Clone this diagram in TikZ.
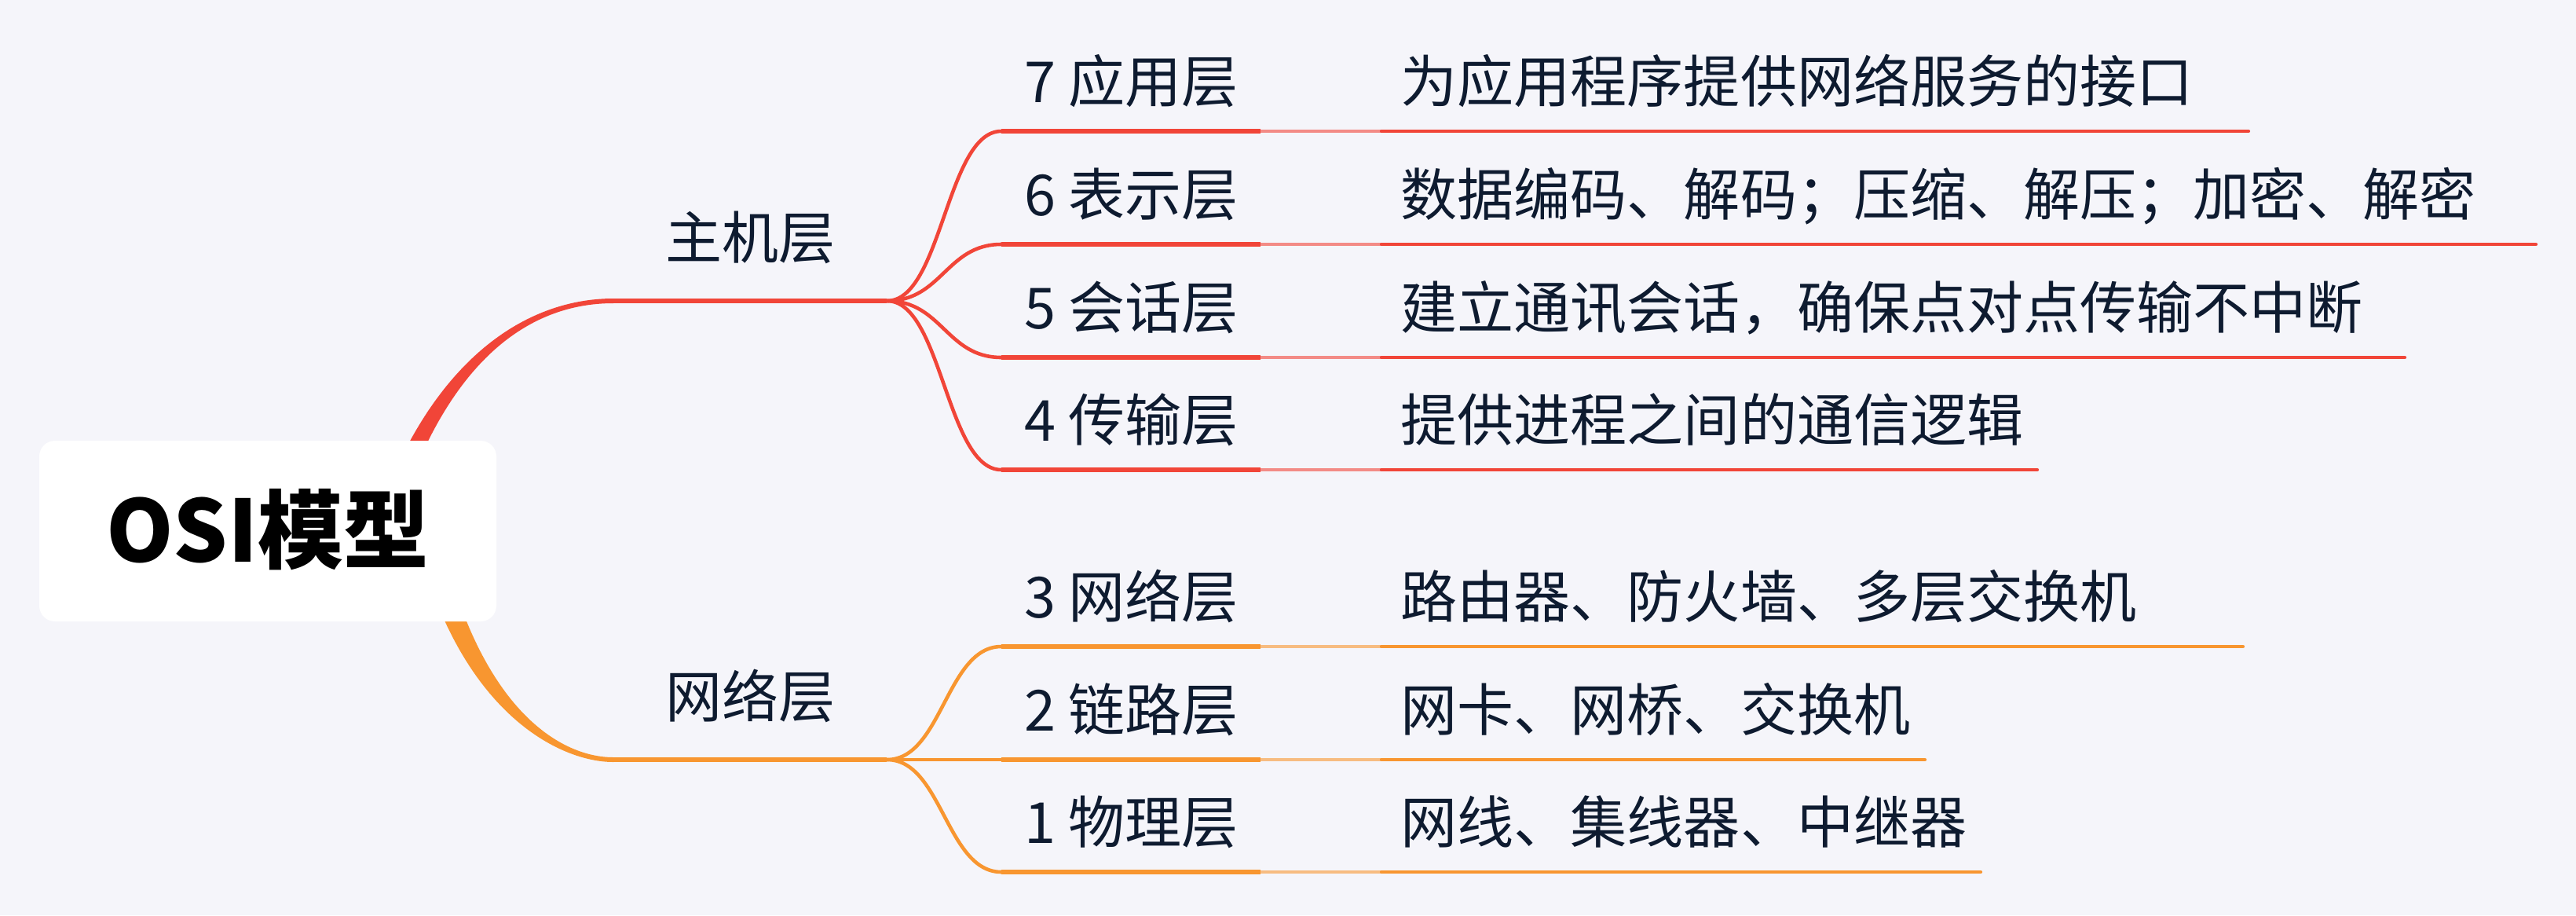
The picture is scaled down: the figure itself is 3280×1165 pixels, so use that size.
\documentclass[tikz,border=0pt]{standalone}
\usepackage{fontspec}
\setmainfont{Noto Sans CJK SC}
\definecolor{hostred}{RGB}{241,69,56}
\definecolor{netorange}{RGB}{248,150,48}
\definecolor{paper}{RGB}{245,245,250}
\definecolor{ink}{RGB}{14,27,48}
\pgfdeclarelayer{back}
\pgfsetlayers{back,main}
\tikzset{
  root/.style={fill=white,rounded corners=2mm,minimum width=58.2mm,minimum height=23mm,
    inner sep=0pt,text height=7.8mm,text depth=0pt,font=\fontsize{31}{36}\selectfont\bfseries},
  group/.style={anchor=south west,minimum width=34.7mm,inner sep=0pt,text=ink,
    text height=6mm,text depth=5.3mm,font=\fontsize{20.5}{24}\selectfont},
  layer/.style={anchor=south west,minimum width=32.9mm,inner sep=0pt,text=ink,
    text height=6mm,text depth=3.6mm,font=\fontsize{20.5}{24}\selectfont},
  desc/.style={anchor=south west,inner xsep=2.4mm,inner ysep=0pt,text=ink,
    text height=6mm,text depth=3.6mm,font=\fontsize{20.5}{24}\selectfont},
  gline/.style={draw=#1,line width=1.7pt},
  bline/.style={draw=#1,line width=1.3pt},
  lline/.style={draw=#1,line width=1.5pt},
  cline/.style={draw=#1!60!paper,line width=1.1pt},
  dline/.style={draw=#1,line width=1.2pt,line cap=round}
}
\begin{document}
\begin{tikzpicture}[x=0.1mm,y=-0.1mm]
  \begin{pgfonlayer}{back}
    \fill[paper] (0,0) rectangle (3280,1165);
  \end{pgfonlayer}
  % nodes
  \node[root] (osi) at (341,676) {OSI模型};
  \node[group] (host) at (781,383) {主机层};
  \node[group] (net) at (781,967) {网络层};
  \node[layer] (l7) at (1275,167) {7 应用层};
  \node[layer] (l6) at (1275,311) {6 表示层};
  \node[layer] (l5) at (1275,455) {5 会话层};
  \node[layer] (l4) at (1275,598) {4 传输层};
  \node[layer] (l3) at (1275,823) {3 网络层};
  \node[layer] (l2) at (1275,967) {2 链路层};
  \node[layer] (l1) at (1275,1110) {1 物理层};
  \node[desc] (d7) at (1759,167) {为应用程序提供网络服务的接口};
  \node[desc] (d6) at (1759,311) {数据编码、解码；压缩、解压；加密、解密};
  \node[desc] (d5) at (1759,455) {建立通讯会话，确保点对点传输不中断};
  \node[desc] (d4) at (1759,598) {提供进程之间的通信逻辑};
  \node[desc] (d3) at (1759,823) {路由器、防火墙、多层交换机};
  \node[desc] (d2) at (1759,967) {网卡、网桥、交换机};
  \node[desc] (d1) at (1759,1110) {网线、集线器、中继器};
  % main branches
  \begin{pgfonlayer}{back}
    \fill[hostred] ([xshift=12.6mm,yshift=-2.1mm]osi.center) .. controls +(68,-230) and +(-118,0) .. ([yshift=0.3mm]host.south west)
      -- ([yshift=-0.3mm]host.south west) .. controls +(-118,0) and +(62,-230) .. ([xshift=15.2mm,yshift=-2.7mm]osi.center) -- cycle;
    \fill[netorange] ([xshift=18.4mm,yshift=1.3mm]osi.center) .. controls +(52,240) and +(-71,0) .. ([yshift=-0.3mm]net.south west)
      -- ([yshift=0.3mm]net.south west) .. controls +(-71,0) and +(48,240) .. ([xshift=21.4mm,yshift=1.9mm]osi.center) -- cycle;
  \end{pgfonlayer}
  \draw[gline=hostred] (host.south west) -- (host.south east);
  \draw[gline=netorange] (net.south west) -- (net.south east);
  % host layers
  \foreach \n in {7,6,5,4} {
    \draw[bline=hostred] (host.south east) .. controls +(70,0) and +(-70,0) .. (l\n.south west);
    \draw[lline=hostred] (l\n.south west) -- (l\n.south east);
    \draw[cline=hostred] (l\n.south east) -- (d\n.south west);
  }
  % network layers
  \foreach \n in {3,2,1} {
    \draw[bline=netorange] (net.south east) .. controls +(70,0) and +(-70,0) .. (l\n.south west);
    \draw[lline=netorange] (l\n.south west) -- (l\n.south east);
    \draw[cline=netorange] (l\n.south east) -- (d\n.south west);
  }
  \draw[dline=hostred] (d7.south west) -- ++(1104,0);
  \draw[dline=hostred] (d6.south west) -- ++(1470,0);
  \draw[dline=hostred] (d5.south west) -- ++(1303,0);
  \draw[dline=hostred] (d4.south west) -- ++(835,0);
  \draw[dline=netorange] (d3.south west) -- ++(1097,0);
  \draw[dline=netorange] (d2.south west) -- ++(692,0);
  \draw[dline=netorange] (d1.south west) -- ++(763,0);
\end{tikzpicture}
\end{document}
